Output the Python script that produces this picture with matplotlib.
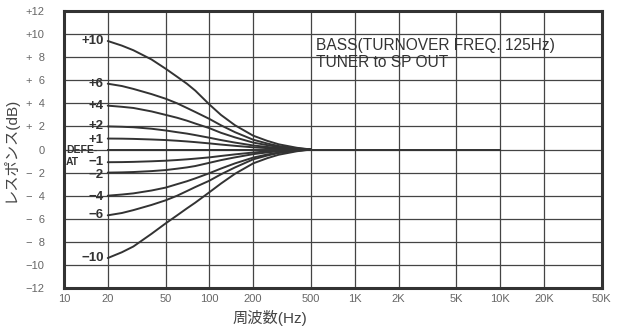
import matplotlib.pyplot as plt

plt.rcParams['font.family'] = ['Liberation Sans', 'Noto Sans CJK JP']

# 周波数 [Hz] と各ツマミ位置の応答 [dB]
freq = [20, 25, 30, 40, 50, 60, 70, 80, 100, 120, 150, 200, 250, 300, 400, 500]
curves = {
    '+10': [9.4, 9.0, 8.6, 7.8, 7.0, 6.3, 5.7, 5.1, 3.9, 3.0, 2.1, 1.2, 0.75, 0.45, 0.15, 0],
    '+6': [5.7, 5.5, 5.25, 4.8, 4.4, 4.0, 3.6, 3.25, 2.65, 2.1, 1.5, 0.85, 0.52, 0.3, 0.1, 0],
    '+4': [3.8, 3.7, 3.6, 3.3, 3.0, 2.75, 2.5, 2.25, 1.85, 1.45, 1.05, 0.6, 0.38, 0.22, 0.07, 0],
    '+2': [2.0, 1.97, 1.93, 1.8, 1.65, 1.5, 1.38, 1.25, 1.02, 0.82, 0.6, 0.35, 0.22, 0.13, 0.04, 0],
    '+1': [0.95, 0.94, 0.92, 0.87, 0.82, 0.76, 0.7, 0.64, 0.53, 0.43, 0.32, 0.19, 0.12, 0.07, 0.02, 0],
    '-1': [-1.1, -1.09, -1.07, -1.02, -0.97, -0.91, -0.85, -0.79, -0.68, -0.56, -0.42, -0.26, -0.16, -0.09, -0.03, 0],
    '-2': [-2.0, -1.98, -1.95, -1.87, -1.78, -1.66, -1.55, -1.43, -1.15, -0.92, -0.68, -0.4, -0.25, -0.15, -0.05, 0],
    '-4': [-4.0, -3.9, -3.8, -3.55, -3.3, -3.0, -2.75, -2.5, -2.05, -1.65, -1.2, -0.7, -0.43, -0.26, -0.08, 0],
    '-6': [-5.7, -5.5, -5.25, -4.8, -4.4, -4.0, -3.6, -3.25, -2.7, -2.15, -1.55, -0.85, -0.52, -0.3, -0.1, 0],
    '-10': [-9.4, -8.9, -8.4, -7.3, -6.4, -5.7, -5.1, -4.6, -3.7, -2.95, -2.1, -1.2, -0.75, -0.45, -0.15, 0],
}
flat_freq = [20, 10000]
flat_db = [0, 0]

# ラベルの縦位置 [dB]
label_pos = {'+10': 9.4, '+6': 5.7, '+4': 3.8, '+2': 2.0, '+1': 0.85,
             '-1': -1.1, '-2': -2.2, '-4': -4.1, '-6': -5.7, '-10': -9.4}

xticks = [10, 20, 50, 100, 200, 500, 1000, 2000, 5000, 10000, 20000, 50000]
xticklabels = ['10', '20', '50', '100', '200', '500', '1K', '2K', '5K', '10K', '20K', '50K']
yticks = list(range(-12, 13, 2))
yticklabels = ['+12', '+10', '+  8', '+  6', '+  4', '+  2', '0',
               '−  2', '−  4', '−  6', '−  8', '−10', '−12'][::-1]

fig = plt.figure(figsize=(6.25, 3.33), dpi=100)
ax = fig.add_axes([0.1024, 0.135, 0.8606, 0.832])

for name, vals in curves.items():
    ax.plot(freq, vals, color='#333333', lw=1.4, solid_capstyle='round')
ax.plot(flat_freq, flat_db, color='#333333', lw=1.4)

# 曲線ラベル
for name, y in label_pos.items():
    ax.text(18.7, y, name.replace('-', '−'), ha='right', va='center',
            fontsize=9.5, fontweight='bold', color='#333333')
ax.text(10.3, 0, 'DEFE-', ha='left', va='center', fontsize=7.5,
        fontweight='bold', color='#333333')
ax.text(10.3, -1.1, 'AT', ha='left', va='center', fontsize=7.5,
        fontweight='bold', color='#333333')

ax.text(540, 9.7, 'BASS(TURNOVER FREQ. 125Hz)\nTUNER to SP OUT',
        ha='left', va='top', fontsize=11.2, color='#333333', linespacing=1.2)

ax.set_xscale('log')
ax.set_xlim(10, 50000)
ax.set_ylim(-12, 12)
ax.set_xticks(xticks)
ax.set_xticklabels(xticklabels)
ax.minorticks_off()
ax.set_yticks(yticks)
ax.set_yticklabels(yticklabels)
ax.tick_params(length=0, labelsize=8, labelcolor='#666666', pad=4)
ax.tick_params(axis='y', pad=14)
ax.grid(True, color='#444444', lw=0.9)
for s in ax.spines.values():
    s.set_linewidth(2.2)
    s.set_color('#333333')

ax.set_ylabel('レスポンス(dB)', fontsize=11, color='#444444', labelpad=6)
fig.text(270 / 625, 1 - 318 / 333, '周波数(Hz)', ha='center', va='center',
         fontsize=11, color='#444444')

fig.savefig('out.png', dpi=100)
